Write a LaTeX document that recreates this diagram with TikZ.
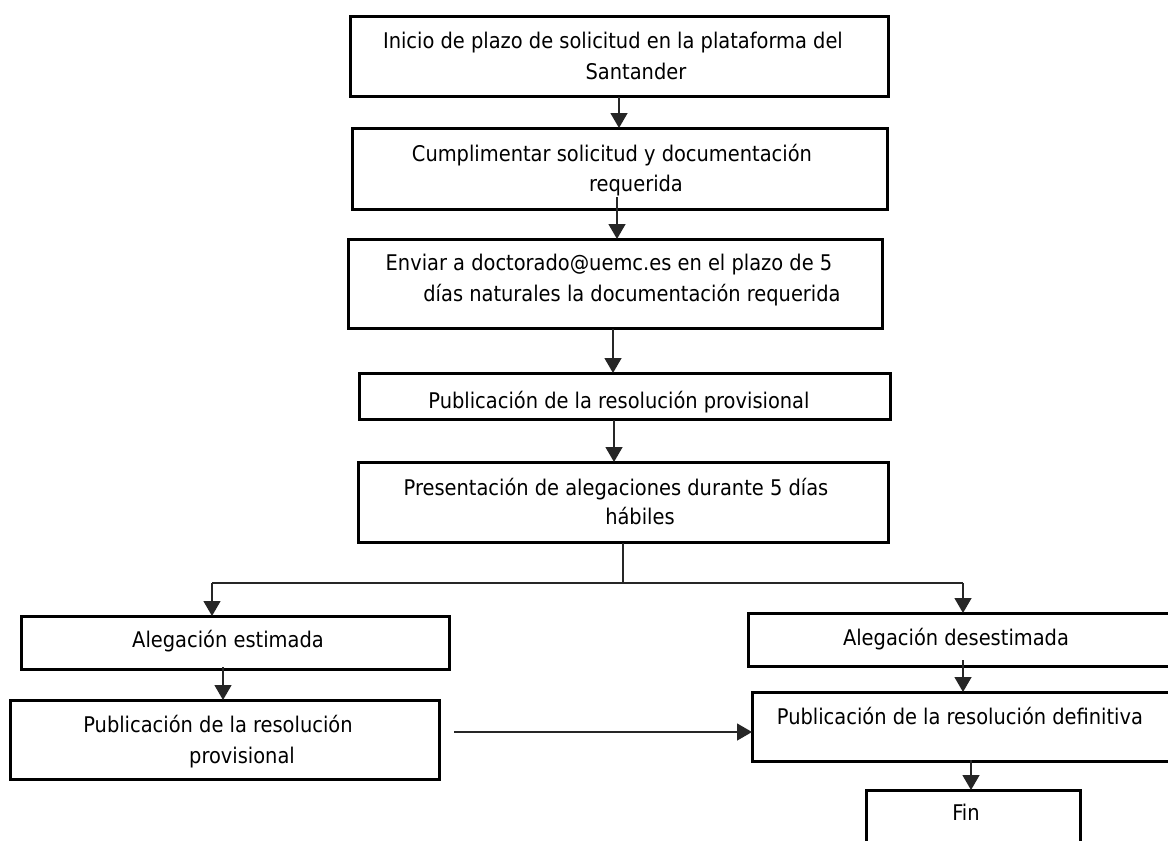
\documentclass[tikz,border=0pt]{standalone}
\usepackage{fontspec}
\setmainfont{DejaVu Sans Condensed}
\usetikzlibrary{arrows.meta}
\tikzset{
  box/.style={draw=black, line width=3pt},
  conn/.style={draw=black!85, line width=1.4pt},
  arr/.style={conn, -{Triangle[width=17pt,length=15pt]}},
  txt/.style={anchor=base, inner sep=0pt, font=\fontsize{21.6}{25}\selectfont, text=black},
}
\begin{document}
\begin{tikzpicture}[x=1pt,y=-1pt]
\useasboundingbox (0,0) rectangle (1168,841);
\fill[white] (0,0) rectangle (1168,841);
% boxes
\draw[box] (350,16) rectangle (888,96);
\draw[box] (352,128) rectangle (887,209);
\draw[box] (348,239) rectangle (882,328);
\draw[box] (359,373) rectangle (890,419);
\draw[box] (358,462) rectangle (888,542);
\draw[box] (21,616) rectangle (449,669);
\draw[box] (10,700) rectangle (439,779);
\draw[box] (748,613) rectangle (1190,666);
\draw[box] (752,692) rectangle (1190,761);
\draw[box] (866,790) rectangle (1080,870);
% texts
\node[txt] (t1a) at (613,48) {Inicio de plazo de solicitud en la plataforma del};
\node[txt] (t1b) at (636,79) {Santander};
\node[txt] (t2a) at (612,161) {Cumplimentar solicitud y documentación};
\node[txt] (t2b) at (636,191) {requerida};
\node[txt] (t3a) at (609,270) {Enviar a doctorado@uemc.es en el plazo de 5};
\node[txt] (t3b) at (632,301) {días naturales la documentación requerida};
\begin{scope}
\clip (359,373) rectangle (890,417);
\node[txt] (t4) at (619,408) {Publicación de la resolución provisional};
\end{scope}
\node[txt] (t5a) at (616,495) {Presentación de alegaciones durante 5 días};
\node[txt] (t5b) at (640,524) {hábiles};
\node[txt] (t6) at (228,647) {Alegación estimada};
\node[txt] (t7a) at (218,732) {Publicación de la resolución};
\node[txt] (t7b) at (242,763) {provisional};
\node[txt] (t8) at (956,645) {Alegación desestimada};
\node[txt] (t9) at (960,724) {Publicación de la resolución definitiva};
\node[txt] (t10) at (966,820) {Fin};
% connectors
\coordinate (a1s) at (619,97); \coordinate (a1e) at (619,128);
\draw[arr] (a1s) -- (a1e);
\coordinate (a2s) at (617,197); \coordinate (a2e) at (617,239);
\draw[arr] (a2s) -- (a2e);
\coordinate (a3s) at (613,329); \coordinate (a3e) at (613,373);
\draw[arr] (a3s) -- (a3e);
\coordinate (a4s) at (614,420); \coordinate (a4e) at (614,462);
\draw[arr] (a4s) -- (a4e);
\coordinate (s5) at (623,543); \coordinate (j5) at (623,583);
\coordinate (jl) at (212,583); \coordinate (jr) at (963,583);
\coordinate (el) at (212,616); \coordinate (er) at (963,613);
\draw[conn] (s5) -- (j5);
\draw[conn] (jl) -- (jr);
\draw[arr] (jl) -- (el);
\draw[arr] (jr) -- (er);
\coordinate (a6s) at (223,667); \coordinate (a6e) at (223,700);
\draw[arr] (a6s) -- (a6e);
\coordinate (a7s) at (454,732); \coordinate (a7e) at (752,732);
\draw[arr] (a7s) -- (a7e);
\coordinate (a8s) at (963,660); \coordinate (a8e) at (963,692);
\draw[arr] (a8s) -- (a8e);
\coordinate (a9s) at (971,760); \coordinate (a9e) at (971,790);
\draw[arr] (a9s) -- (a9e);
\end{tikzpicture}
\end{document}
